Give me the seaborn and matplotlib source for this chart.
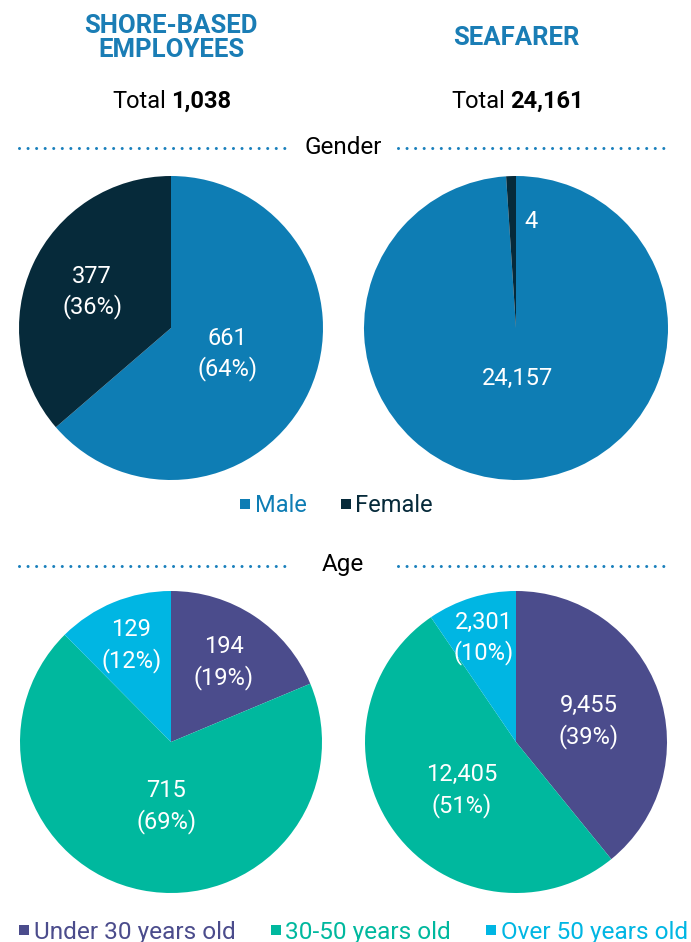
import numpy as np
import matplotlib
matplotlib.use("Agg")
import matplotlib.pyplot as plt
import seaborn as sns
from matplotlib.lines import Line2D

# ---------------- data ----------------
group_titles = ["SHORE-BASED\nEMPLOYEES", "SEAFARER"]
group_totals = ["1,038", "24,161"]
section_titles = ["Gender", "Age"]

gender_categories = ["Male", "Female"]
shore_gender = [661, 377]
seafarer_gender = [24157, 4]

age_categories = ["Under 30 years old", "30-50 years old", "Over 50 years old"]
shore_age = [194, 715, 129]
seafarer_age = [9455, 12405, 2301]

# ---------------- style ----------------
sns.set_theme(style="white")
plt.rcParams["font.family"] = ["Roboto", "DejaVu Sans"]

W, H = 691, 942
gender_colors = ["#0E7DB4", "#062A3A"]
age_colors = ["#4B4C8C", "#00B89E", "#00B6E3"]
title_color = "#1A7DB5"
dot_color = "#1A80BC"

fig = plt.figure(figsize=(W / 100, H / 100), dpi=100)
fig.patch.set_facecolor("white")


def fx(x):
    return x / W


def fy(y):
    return 1 - y / H


def pie_axes(cx, cy, r):
    ax = fig.add_axes([fx(cx - r), fy(cy + r), 2 * r / W, 2 * r / H])
    return ax


def draw_pie(cx, cy, r, values, colors, show_pct, dists, angle_offsets,
             min_frac=0.0):
    ax = pie_axes(cx, cy, r)
    total = sum(values)
    plot_vals = [max(v, total * min_frac) for v in values]
    wedges, _ = ax.pie(plot_vals, colors=colors, startangle=90,
                       counterclock=False, radius=1,
                       wedgeprops=dict(linewidth=0))
    for w, v, d, off in zip(wedges, values, dists, angle_offsets):
        th = np.deg2rad((w.theta1 + w.theta2) / 2 + off)
        if show_pct:
            lab = f"{v:,}\n({round(100 * v / total):.0f}%)"
        else:
            lab = f"{v:,}"
        ax.text(d * np.cos(th), d * np.sin(th), lab, ha="center",
                va="center", color="white", fontsize=17, linespacing=1.35)
    ax.set_xlim(-1, 1)
    ax.set_ylim(-1, 1)
    ax.set_aspect("equal")
    ax.axis("off")
    return ax


# ---------------- headers ----------------
centers_x = [171, 516]
fig.text(fx(centers_x[0]), fy(38), group_titles[0], ha="center", va="center",
         fontsize=18.5, fontweight="bold", color=title_color, linespacing=1.05)
fig.text(fx(centers_x[1]), fy(38), group_titles[1], ha="center", va="center",
         fontsize=18.5, fontweight="bold", color=title_color)

splits = [168, 507]
for sx, tot in zip(splits, group_totals):
    fig.text(fx(sx - 2), fy(101), "Total", ha="right", va="center",
             fontsize=17, color="black")
    fig.text(fx(sx + 3), fy(101), tot, ha="left", va="center",
             fontsize=17, fontweight="bold", color="black")


def section(y, title):
    fig.text(fx(343), fy(y), title, ha="center", va="center",
             fontsize=17.5, color="black")
    gap = 2.8
    for x0, x1 in [(19, 290), (398, 668)]:
        fig.add_artist(Line2D([fx(x0), fx(x1)], [fy(y + 1), fy(y + 1)],
                              transform=fig.transFigure, color=dot_color,
                              linewidth=2.2, dash_capstyle="round",
                              linestyle=(0, (0.001, gap))))


section(147, section_titles[0])
section(565, section_titles[1])

# ---------------- gender pies ----------------
draw_pie(171, 328, 152, shore_gender, gender_colors, True,
         [0.41, 0.57], [0, 0])
draw_pie(516, 328, 152, seafarer_gender, gender_colors, False,
         [0.33, 0.71], [0, -10], min_frac=0.0105)

# gender legend
handles = [Line2D([], [], marker="s", linestyle="", markersize=7,
                  markerfacecolor=c, markeredgewidth=0) for c in gender_colors]
fig.legend(handles, gender_categories, loc="center",
           bbox_to_anchor=(fx(336), fy(506)), ncol=2, frameon=False,
           fontsize=17, handlelength=0.5, handletextpad=0.15,
           columnspacing=1.4, labelcolor=gender_colors, borderpad=0)

# ---------------- age pies ----------------
draw_pie(171, 742, 151, shore_age, age_colors, True,
         [0.63, 0.43, 0.69], [0, 7, 0])
draw_pie(516, 742, 151, seafarer_age, age_colors, True,
         [0.50, 0.48, 0.72], [-4, 5, 0])

handles = [Line2D([], [], marker="s", linestyle="", markersize=7,
                  markerfacecolor=c, markeredgewidth=0) for c in age_colors]
fig.legend(handles, age_categories, loc="center",
           bbox_to_anchor=(fx(353), fy(932)), ncol=3, frameon=False,
           fontsize=17.6, handlelength=0.5, handletextpad=0.15,
           columnspacing=1.4, labelcolor=age_colors, borderpad=0)

fig.savefig("out.png", dpi=100, facecolor="white")
